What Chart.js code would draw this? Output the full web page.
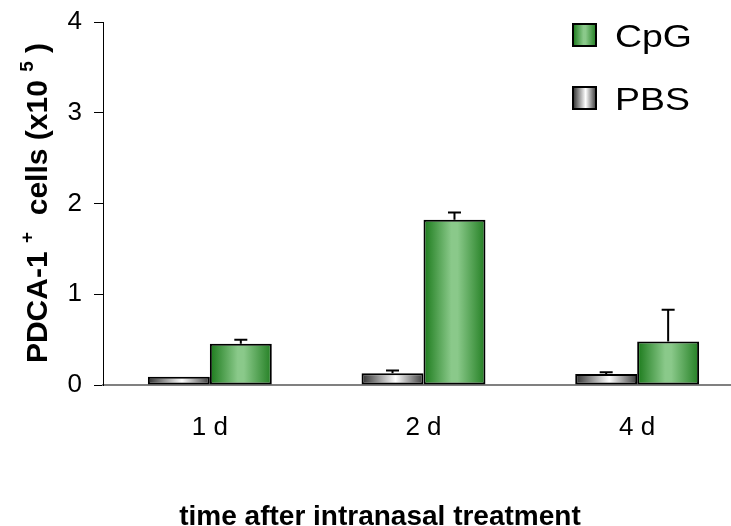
<!DOCTYPE html>
<html>
<head>
<meta charset="utf-8">
<script src="https://cdn.jsdelivr.net/npm/chart.js@4/dist/chart.umd.min.js"></script>
<style>
  html, body { margin: 0; padding: 0; background: #fff; overflow: hidden; }
  #wrap { width: 731px; height: 526px; overflow: hidden; }
</style>
</head>
<body>
<div id="wrap"><canvas id="chart" width="744" height="526"></canvas></div>
<script>
// values (x10^5 cells)
const categories = ['1 d', '2 d', '4 d'];
const pbsValues = [0.09, 0.13, 0.12];
const pbsErrors = [0, 0.03, 0.02];
const cpgValues = [0.455, 1.82, 0.48];
const cpgErrors = [0.045, 0.08, 0.35];
const yTicks = [0, 1, 2, 3, 4];

const FONT = "'Liberation Sans', Arial, sans-serif";
const CAT_PCT = 0.58;

const greenStops = [[0, '#1b7a1b'], [0.45, '#8ac98a'], [0.55, '#8ac98a'], [1, '#237f23']];
const greyStops = [[0, '#2e2e2e'], [0.55, '#ffffff'], [1, '#3a3a3a']];

function hGradient(ctx, x0, x1, stops) {
    const g = ctx.createLinearGradient(x0, 0, x1, 0);
    stops.forEach(s => g.addColorStop(s[0], s[1]));
    return g;
}

// gradient per bar, position worked out from the category scale
function barFill(stops) {
    return function(context) {
        const chart = context.chart;
        const xs = chart.scales.x;
        if (!xs || !chart.chartArea) return stops[1][1];
        const catW = xs.width / categories.length;
        const barW = catW * CAT_PCT / 2;
        const center = xs.getPixelForValue(context.dataIndex);
        const left = center - barW + context.datasetIndex * barW;
        return hGradient(chart.ctx, left, left + barW, stops);
    };
}

const errorBars = {
    id: 'errorBars',
    afterDatasetsDraw(chart) {
        const ctx = chart.ctx;
        const ys = chart.scales.y;
        const errs = [pbsErrors, cpgErrors];
        ctx.save();
        ctx.strokeStyle = '#000';
        ctx.lineWidth = 2;
        chart.data.datasets.forEach((ds, di) => {
            chart.getDatasetMeta(di).data.forEach((bar, i) => {
                if (!errs[di][i]) return;
                const top = ys.getPixelForValue(ds.data[i] + errs[di][i]);
                ctx.beginPath();
                ctx.moveTo(bar.x, bar.y);
                ctx.lineTo(bar.x, top);
                ctx.moveTo(bar.x - 6.5, top);
                ctx.lineTo(bar.x + 6.5, top);
                ctx.stroke();
            });
        });
        ctx.restore();
    }
};

const extraText = {
    id: 'extraText',
    afterDraw(chart) {
        const ctx = chart.ctx;
        ctx.save();
        ctx.fillStyle = '#000';

        // x title
        ctx.font = 'bold 28px ' + FONT;
        ctx.textAlign = 'center';
        ctx.textBaseline = 'alphabetic';
        ctx.fillText('time after intranasal treatment', 380, 525);

        // y title with superscripts
        const parts = [
            { t: 'PDCA-1 ', sup: false },
            { t: '+', sup: true },
            { t: '  cells (x10 ', sup: false },
            { t: '5', sup: true },
            { t: ' )', sup: false }
        ];
        const mainFont = 'bold 30px ' + FONT;
        const supFont = 'bold 19px ' + FONT;
        let total = 0;
        parts.forEach(p => {
            ctx.font = p.sup ? supFont : mainFont;
            p.w = ctx.measureText(p.t).width;
            total += p.w;
        });
        ctx.translate(47, 203);
        ctx.rotate(-Math.PI / 2);
        ctx.textAlign = 'left';
        let x = -total / 2;
        parts.forEach(p => {
            ctx.font = p.sup ? supFont : mainFont;
            ctx.fillText(p.t, x, p.sup ? -14 : 0);
            x += p.w;
        });
        ctx.restore();

        // legend, CpG first
        ctx.save();
        const items = [
            { label: 'CpG', stops: greenStops, y: 24 },
            { label: 'PBS', stops: greyStops, y: 87 }
        ];
        items.forEach(it => {
            ctx.fillStyle = hGradient(ctx, 573, 596, it.stops);
            ctx.fillRect(573, it.y, 23, 22);
            ctx.strokeStyle = '#000';
            ctx.lineWidth = 2;
            ctx.strokeRect(573, it.y, 23, 22);
            ctx.save();
            ctx.fillStyle = '#000';
            ctx.font = '32px ' + FONT;
            ctx.textAlign = 'left';
            ctx.textBaseline = 'alphabetic';
            ctx.translate(615, it.y + 23);
            ctx.scale(1.17, 1);
            ctx.fillText(it.label, 0, 0);
            ctx.restore();
        });
        ctx.restore();
    }
};

new Chart(document.getElementById('chart'), {
    type: 'bar',
    data: {
        labels: categories,
        datasets: [{
            label: 'PBS',
            data: pbsValues,
            backgroundColor: barFill(greyStops),
            borderColor: '#000',
            borderWidth: 2,
            borderSkipped: false
        }, {
            label: 'CpG',
            data: cpgValues,
            backgroundColor: barFill(greenStops),
            borderColor: '#000',
            borderWidth: 2,
            borderSkipped: false
        }]
    },
    options: {
        responsive: false,
        animation: false,
        events: [],
        layout: { padding: { top: 22, left: 0, right: 0, bottom: 0 } },
        datasets: {
            bar: { categoryPercentage: CAT_PCT, barPercentage: 1 }
        },
        plugins: {
            legend: { display: false },
            tooltip: { enabled: false }
        },
        scales: {
            x: {
                offset: true,
                grid: { display: false, drawTicks: false },
                border: { display: true, color: '#808080', width: 2 },
                ticks: {
                    color: '#000',
                    padding: 27,
                    font: { size: 26, family: FONT }
                },
                afterFit(scale) {
                    scale.height = 141;
                    scale.paddingLeft = 0;
                    scale.paddingRight = 0;
                }
            },
            y: {
                min: 0,
                max: 4,
                afterBuildTicks(scale) {
                    scale.ticks = yTicks.map(v => ({ value: v }));
                },
                grid: {
                    drawOnChartArea: false,
                    drawTicks: true,
                    tickLength: 9,
                    color: '#000',
                    lineWidth: 1
                },
                border: { display: true, color: '#000', width: 1 },
                ticks: {
                    color: '#000',
                    padding: 12,
                    font: { size: 26, family: FONT }
                },
                afterFit(scale) {
                    scale.width = 103;
                    scale.paddingTop = 0;
                    scale.paddingBottom = 0;
                }
            }
        }
    },
    plugins: [errorBars, extraText]
});
</script>
</body>
</html>
